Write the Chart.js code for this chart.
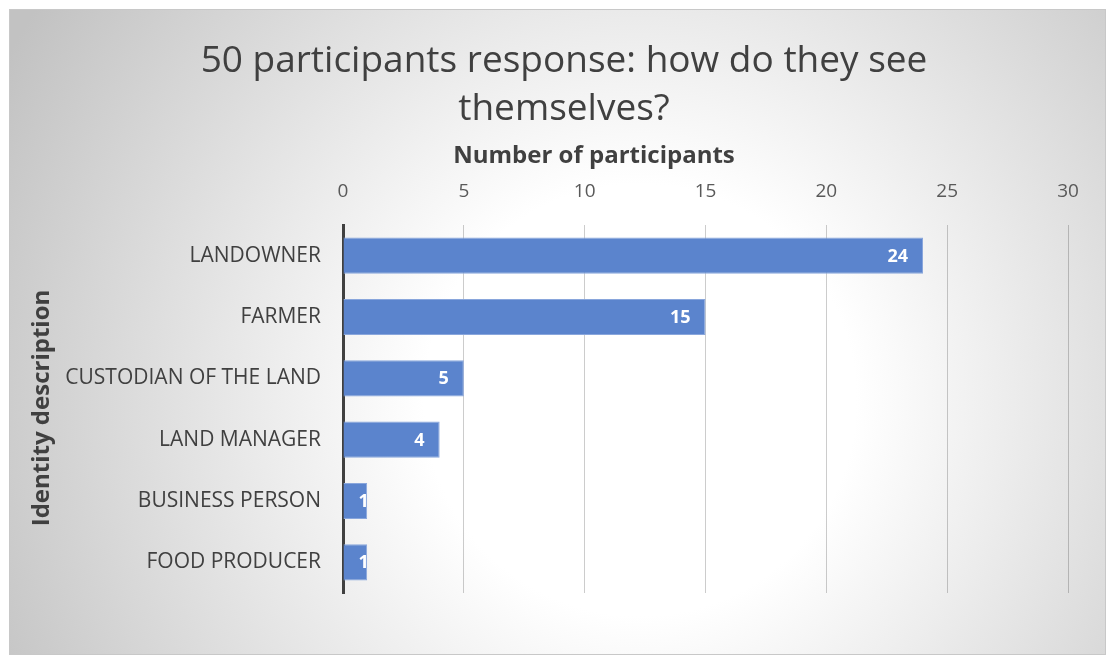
<!DOCTYPE html>
<html>
<head>
<meta charset="utf-8">
<title>How do they see themselves?</title>
<script src="https://cdn.jsdelivr.net/npm/chart.js@4.4.1/dist/chart.umd.min.js"></script>
<style>
  html, body { margin: 0; padding: 0; background: #fff; }
  canvas { display: block; }
</style>
</head>
<body>
<canvas id="grafico" width="1109" height="657"></canvas>
<script>
// Respostas dos 50 participantes
const categorias = ["LANDOWNER", "FARMER", "CUSTODIAN OF THE LAND", "LAND MANAGER", "BUSINESS PERSON", "FOOD PRODUCER"];
const participantes = [24, 15, 5, 4, 1, 1];
const tituloLinhas = ["50 participants response: how do they see", "themselves?"];
const tituloX = "Number of participants";
const tituloY = "Identity description";

const FONTE = "'Open Sans', 'Noto Sans', sans-serif";

// Fundo com gradiente radial e moldura
const fundo = {
  id: "fundo",
  beforeDraw(chart) {
    const { ctx, width, height } = chart;
    ctx.save();
    ctx.fillStyle = "#ffffff";
    ctx.fillRect(0, 0, width, height);
    const g = ctx.createRadialGradient(640, 400, 0, 640, 400, 720);
    g.addColorStop(0, "#ffffff");
    g.addColorStop(0.3, "#ffffff");
    g.addColorStop(1, "#c2c2c2");
    ctx.fillStyle = g;
    ctx.fillRect(9, 9, width - 12, height - 11);
    ctx.strokeStyle = "#c8c8c8";
    ctx.lineWidth = 1;
    ctx.strokeRect(9.5, 9.5, width - 13, height - 12);
    ctx.restore();
  }
};

// Títulos dos eixos
const titulosEixos = {
  id: "titulosEixos",
  afterDraw(chart) {
    const { ctx } = chart;
    ctx.save();
    ctx.fillStyle = "#404040";
    ctx.font = "bold 24px " + FONTE;
    ctx.textAlign = "center";
    ctx.textBaseline = "middle";
    ctx.fillText(tituloX, 594, 156);
    ctx.translate(42, 408);
    ctx.rotate(-Math.PI / 2);
    ctx.fillText(tituloY, 0, 0);
    ctx.restore();
  }
};

// Valores dentro da ponta das barras (recortados pela própria barra)
const rotulos = {
  id: "rotulos",
  afterDatasetsDraw(chart) {
    const { ctx } = chart;
    const meta = chart.getDatasetMeta(0);
    ctx.save();
    ctx.fillStyle = "#ffffff";
    ctx.font = "bold 18px " + FONTE;
    ctx.textAlign = "left";
    ctx.textBaseline = "middle";
    meta.data.forEach((bar, i) => {
      const txt = String(participantes[i]);
      const w = ctx.measureText(txt).width;
      const x = Math.max(bar.x - 15 - w, bar.base + 15);
      ctx.save();
      ctx.beginPath();
      ctx.rect(bar.base, bar.y - bar.height / 2, bar.x - bar.base, bar.height);
      ctx.clip();
      ctx.fillText(txt, x, bar.y + 1);
      ctx.restore();
    });
    ctx.restore();
  }
};

new Chart(document.getElementById("grafico").getContext("2d"), {
  type: "bar",
  data: {
    labels: categorias,
    datasets: [{
      data: participantes,
      backgroundColor: "#5b84cd",
      borderColor: "#89a6dc",
      borderWidth: 1,
      borderSkipped: "start",
      barPercentage: 0.59,
      categoryPercentage: 1
    }]
  },
  options: {
    indexAxis: "y",
    responsive: false,
    animation: false,
    layout: { padding: { top: 9, left: 60, right: 41, bottom: 64 } },
    plugins: {
      legend: { display: false },
      tooltip: { enabled: false },
      title: {
        display: true,
        text: tituloLinhas,
        color: "#404040",
        font: { family: FONTE, size: 37, weight: "normal", lineHeight: "48px" },
        padding: { top: 28, bottom: 0 }
      }
    },
    scales: {
      x: {
        position: "top",
        min: 0,
        max: 30,
        ticks: {
          stepSize: 5,
          color: "#595959",
          padding: 22,
          font: { family: FONTE, size: 19 }
        },
        grid: { color: "rgba(0,0,0,0.2)", lineWidth: 1, drawTicks: false },
        border: { display: false },
        afterFit(scale) { scale.height = 92; }
      },
      y: {
        ticks: {
          color: "#404040",
          padding: 22,
          font: { family: FONTE, size: 21 }
        },
        grid: { display: false, drawTicks: false },
        border: { color: "#404040", width: 3 },
        afterFit(scale) { scale.width = 283; }
      }
    }
  },
  plugins: [fundo, titulosEixos, rotulos]
});
</script>
</body>
</html>
